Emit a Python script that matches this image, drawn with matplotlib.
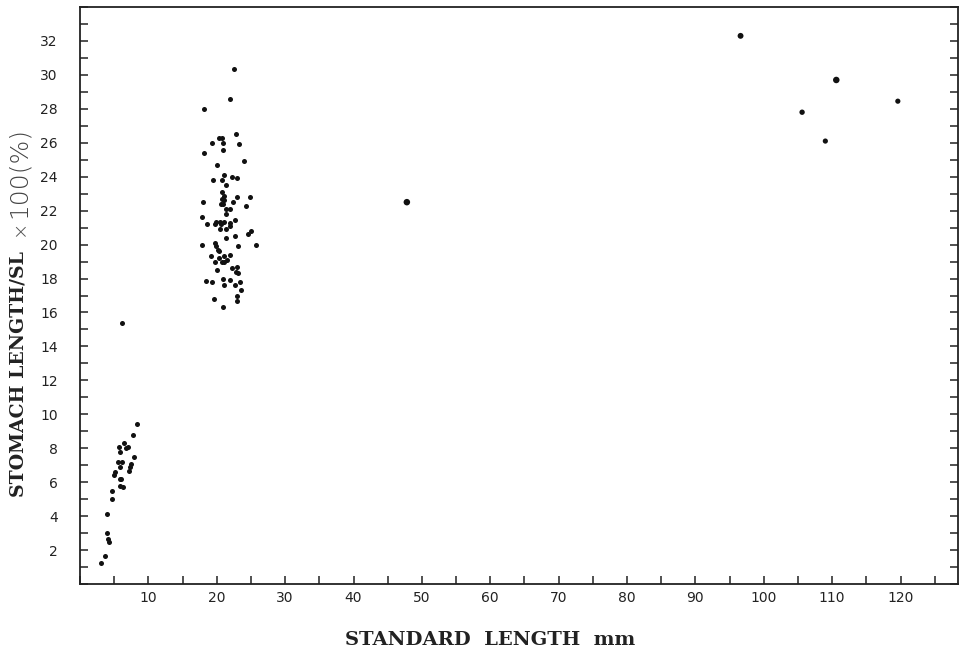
import matplotlib
matplotlib.use('Agg')
import matplotlib.pyplot as plt
from matplotlib.ticker import MultipleLocator

# small fish, around 3-9 mm
small_x = [6.2, 8.3, 7.8, 6.4, 7.0, 5.7, 6.7, 5.8, 7.85, 5.56, 6.1, 7.5, 7.3, 5.8,
           7.1, 5.07, 5.0, 5.8, 6.05, 5.8, 6.3, 4.7, 4.7, 3.9, 3.9, 4.1, 4.3, 3.7, 3.1]
small_y = [15.4, 9.4, 8.8, 8.3, 8.1, 8.1, 8.0, 7.8, 7.5, 7.2, 7.2, 7.05, 6.9, 6.9,
           6.67, 6.6, 6.4, 6.2, 6.2, 5.8, 5.7, 5.5, 5.0, 4.1, 3.0, 2.65, 2.5, 1.65, 1.25]

# middle group, around 18-26 mm
mid_x = [22.5, 21.9, 18.2, 22.8, 20.3, 20.7, 19.3, 20.9, 23.2, 20.9, 18.1, 24.0,
         20.1, 21.1, 22.2, 22.95, 19.4, 20.8, 21.4, 20.7, 21.0, 20.8, 21.1, 20.9,
         22.9, 24.8, 22.4, 18.0, 20.6, 24.3, 21.9, 21.3, 21.3, 17.9, 18.6, 19.9,
         20.5, 21.1, 22.6, 22.0, 19.8, 20.6, 21.9, 20.5, 21.3, 25.0, 24.5, 22.6,
         21.3, 17.9, 19.7, 19.9, 25.7, 23.1, 20.2, 20.4, 22.0, 19.1, 20.4, 20.8,
         21.1, 21.5, 21.0, 19.8, 22.95, 22.3, 22.8, 23.05, 20.0, 20.9, 21.9, 22.7,
         23.45, 18.4, 19.3, 21.0, 23.6, 22.9, 19.6, 23.0, 20.9]
mid_y = [30.35, 28.6, 28.0, 26.5, 26.3, 26.3, 26.0, 26.0, 25.9, 25.6, 25.4, 24.9,
         24.7, 24.1, 24.0, 23.9, 23.8, 23.8, 23.5, 23.1, 22.85, 22.7, 22.6, 22.4,
         22.8, 22.8, 22.5, 22.5, 22.4, 22.3, 22.1, 22.1, 21.8, 21.6, 21.2, 21.35,
         21.35, 21.35, 21.45, 21.3, 21.2, 21.2, 21.1, 20.9, 20.9, 20.8, 20.6, 20.5,
         20.4, 20.0, 20.1, 19.9, 20.0, 19.9, 19.7, 19.6, 19.4, 19.3, 19.2, 19.0,
         19.3, 19.1, 19.0, 19.0, 18.7, 18.6, 18.4, 18.3, 18.5, 18.0, 17.9, 17.6,
         17.8, 17.85, 17.8, 17.6, 17.3, 17.0, 16.8, 16.65, 16.3]

# large fish
big_x = [47.8, 96.6, 110.6, 105.6, 119.6, 109.0]
big_y = [22.5, 32.3, 29.7, 27.8, 28.45, 26.1]
big_s = [22, 18, 22, 15, 14, 14]

fig = plt.figure(figsize=(9.67, 6.51), dpi=100)
ax = fig.add_axes([80 / 967, 67 / 651, 878 / 967, 577 / 651])

ax.scatter(small_x, small_y, s=13, color='#111111', linewidths=0)
ax.scatter(mid_x, mid_y, s=13, color='#111111', linewidths=0)
ax.scatter(big_x, big_y, s=big_s, color='#111111', linewidths=0)

ax.set_xlim(0, 128.4)
ax.set_ylim(0, 34)
ax.xaxis.set_major_locator(MultipleLocator(10))
ax.xaxis.set_minor_locator(MultipleLocator(5))
ax.yaxis.set_major_locator(MultipleLocator(2))
ax.yaxis.set_minor_locator(MultipleLocator(1))
ax.set_xticks([10, 20, 30, 40, 50, 60, 70, 80, 90, 100, 110, 120])
ax.set_yticks(range(2, 33, 2))

ax.tick_params(axis='both', which='both', direction='in', length=6, width=1.1,
               color='#222222', labelsize=10, labelcolor='#222222')
ax.tick_params(axis='y', which='both', right=True, pad=16)
ax.tick_params(axis='x', which='both', pad=5)
for sp in ax.spines.values():
    sp.set_linewidth(1.3)
    sp.set_color('#222222')

fig.text(490 / 967, 1 - 640 / 651, 'STANDARD  LENGTH  mm', ha='center', va='center',
         family='DejaVu Serif', fontweight='bold', fontsize=14, color='#222222')
fig.text(19 / 967, 1 - 497 / 651, 'STOMACH LENGTH/SL', rotation=90, ha='center',
         va='bottom', family='DejaVu Serif', fontweight='bold', fontsize=13.6,
         color='#222222')
fig.text(19 / 967, 1 - 236 / 651, '\u00d7', rotation=90, ha='center',
         va='bottom', family='DejaVu Sans', fontsize=14, fontweight='light',
         color='#555555')
fig.text(19 / 967, 1 - 218 / 651, '100(%)', rotation=90, ha='center',
         va='bottom', family='DejaVu Sans', fontsize=18, fontweight='light',
         color='#444444')

fig.savefig('out.png', dpi=100)
